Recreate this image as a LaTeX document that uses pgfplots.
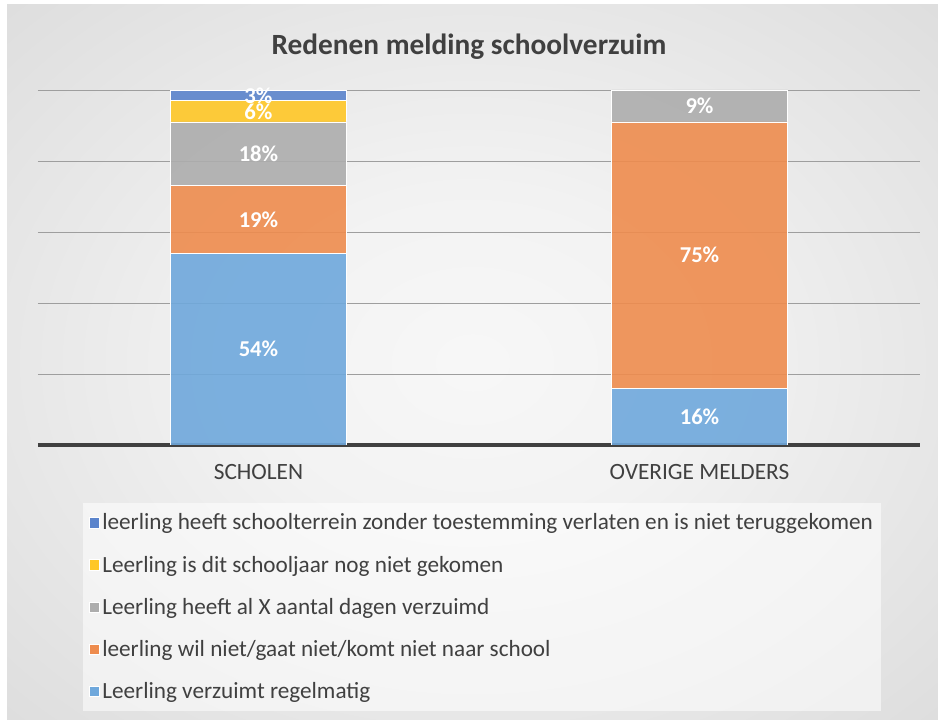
\documentclass[border=0pt]{standalone}
\usepackage{pgfplots}
\pgfplotsset{compat=1.18}
\usepackage{fontspec}
\setmainfont{Carlito}
\definecolor{TxtGray}{HTML}{404040}
\definecolor{cReg}{HTML}{6FA8DC}
\definecolor{cWil}{HTML}{EE8C4E}
\definecolor{cDag}{HTML}{ADADAD}
\definecolor{cNog}{HTML}{FFC726}
\definecolor{cVer}{HTML}{5B84CC}
\pgfdeclareradialshading{chartbg}{\pgfpoint{0bp}{0bp}}{color(0bp)=(white!97!black); color(12bp)=(white!95!black); color(50bp)=(white!82!black); color(72bp)=(white!76!black)}

\begin{document}
\begin{tikzpicture}[x=0.75pt,y=0.75pt]
% background of the chart area
\fill[white] (0,0) rectangle (938,720);
\shade[shading=chartbg] (7,0) rectangle (938,715);
\node[font=\bfseries\fontsize{22}{26}\selectfont, text=TxtGray] at (469,673) {Redenen melding schoolverzuim};

\begin{axis}[
  at={(28.5pt,206.25pt)}, anchor=south west,
  scale only axis, width=661.5pt, height=266.25pt,
  ybar stacked, bar width=132pt,
  xmin=-0.5, xmax=1.5, ymin=0, ymax=100,
  xtick={0,1}, xticklabels={SCHOLEN,OVERIGE MELDERS},
  ytick={0,20,...,100}, yticklabels={},
  ymajorgrids, grid style={draw=black!38, line width=0.6pt},
  axis x line*=bottom, axis y line*=left,
  y axis line style={draw=none},
  x axis line style={draw=TxtGray, line width=3pt, -},
  major tick length=0pt,
  xticklabel style={font=\fontsize{17.5}{20}\selectfont, text=TxtGray, yshift=-11pt},
  every axis plot/.append style={draw=white, line width=0.6pt, fill opacity=0.9},
  visualization depends on={rawy \as \rawy},
  nodes near coords={\pgfmathprintnumber[assume math mode=true]{\rawy}\%},
  every node near coord/.append style={anchor=center, inner sep=0pt,
    text=white, text opacity=1, font=\bfseries\fontsize{17}{18}\selectfont},
  legend style={at={(0.051,-0.163)}, anchor=north west, draw=none,
    fill=white, fill opacity=0.55, text opacity=1,
    font=\fontsize{17.4}{20}\selectfont, text=TxtGray,
    row sep=14pt, inner xsep=4pt, inner ysep=6pt},
  legend cell align=left,
  reverse legend,
  legend image code/.code={\filldraw[#1, fill opacity=1, line width=0.3pt] (0pt,-4pt) rectangle (8pt,4pt);},
]
\addplot[fill=cReg] coordinates {(0,54) (1,16)};
\addplot[fill=cWil] coordinates {(0,19) (1,75)};
\addplot[fill=cDag] coordinates {(0,18) (1,9)};
\addplot[fill=cNog] coordinates {(0,6)};
\addplot[fill=cVer] coordinates {(0,3)};
\legend{Leerling verzuimt regelmatig,
  leerling wil niet/gaat niet/komt niet naar school,
  Leerling heeft al X aantal dagen verzuimd,
  Leerling is dit schooljaar nog niet gekomen,
  leerling heeft schoolterrein zonder toestemming verlaten en is niet teruggekomen}
\end{axis}
\end{tikzpicture}
\end{document}
